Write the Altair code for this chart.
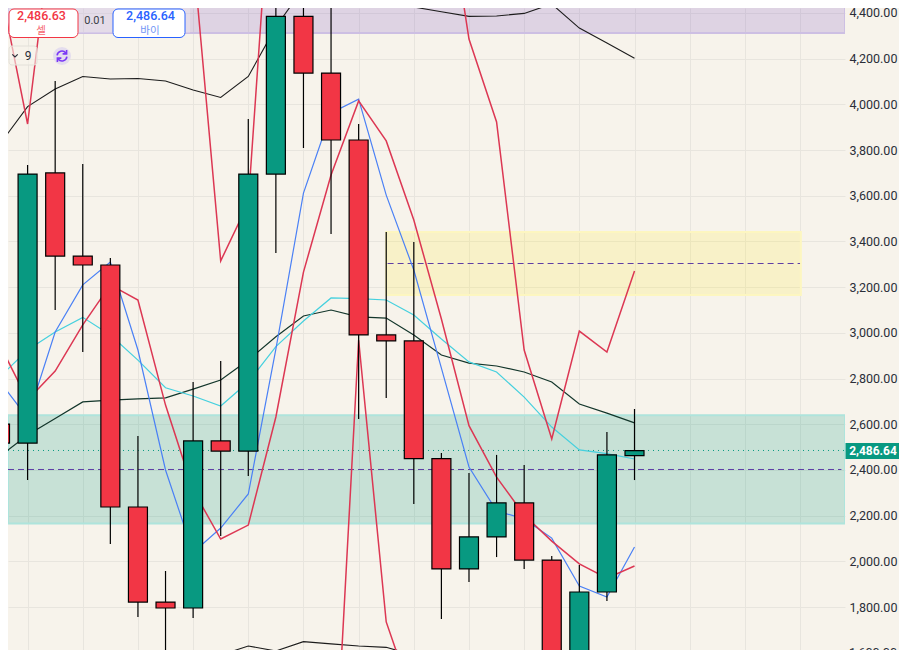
import altair as alt
import pandas as pd

idx = list(range(24))
opens  = [2601,2518,3700,3336,3297,2238,1822,1796,2527,2483,3695,4385,4137,3844,2991,2965,2450,1967,2107,2256,2006,1500,1866,2463]
closes = [2518,3695,3336,3297,2238,1822,1796,2527,2483,3695,4385,4137,3844,2991,2965,2450,1967,2107,2256,2006,1500,1866,2466,2485]
highs  = [2768,3735,4102,3739,3328,2549,1958,2785,2877,3936,4500,4500,4500,3914,3441,3398,2474,2387,2466,2422,2024,1984,2566,2667]
lows   = [2308,2356,3100,2916,2076,1757,1569,1752,2111,2374,3350,3809,3433,2623,2715,2251,1748,1910,2019,1967,1450,1400,1827,2356]

black_upper = [3827,3990,4067,4122,4111,4113,4102,4063,4030,4122,4339,4509,4588,4566,4496,4426,4405,4385,4387,4398,4439,4334,4269,4202]
black_lower_idx = [8,9,10,11,12,13,14,15]
black_lower = [1590,1630,1608,1649,1639,1630,1624,1590]
dark_mid = [2461,2553,2625,2698,2706,2711,2716,2754,2794,2881,2983,3074,3100,3070,3065,2991,2903,2868,2855,2829,2785,2689,2649,2606]
cyan_line = [2808,2925,3004,3068,2991,2881,2760,2724,2680,2785,2940,3052,3153,3150,3144,3078,2973,2873,2829,2719,2588,2488,2472,2448]
blue_line = [2786,2628,3004,3210,3310,2925,2400,2039,2146,2295,2929,3612,3962,4023,3603,3275,2846,2413,2221,2186,2102,1892,1844,2063]
crimson_line = [2947,2706,2833,3035,3210,3144,2684,2312,2098,2159,2632,3266,3691,4015,3840,3494,3061,2594,2369,2203,2089,1989,1927,1980]
wild_idx = [0,1,2, 7,8,9,10, 12,13,14,15, 16,17,18,19,20,21,22,23]
wild_seg = ["a","a","a", "b","b","b","b", "c","c","c","c", "d","d","d","d","d","d","d","d"]
wild_val = [4518,3914,4894, 4658,3315,3568,5310, 737,2969,1735,1385, 5069,4286,3923,2925,2536,3008,2916,3271]

zones = pd.DataFrame({
    "x0": [0.29, 0.29, 14.0], "x1": [30.63, 30.63, 29.03],
    "p0": [4500, 2640, 3441], "p1": [4312, 2166, 3166],
    "fill": ["#7E57C2", "#089981", "#FFEB3B"],
    "edge": ["#CDBFE3", "#AEE4DC", "#FDF6C0"],
})
levels = pd.DataFrame({"x0": [0.29, 14.05], "x1": [30.5, 29.0], "p": [2402.2, 3303.6]})
last_price = 2485.4
price_ticks = list(range(1800, 4401, 200))
low_tick = pd.DataFrame({"p": [1600], "t": ["1,600.00"]})
time_ticks = list(range(1, 30, 2))

GREEN, RED = "#089981", "#F23645"
BG = "#F7F3EB"
xs = alt.Scale(domain=[0.29, 30.63], nice=False, zero=False, padding=0)
ys = alt.Scale(domain=[1612.3, 4421.7], nice=False, zero=False, padding=0)
x_axis = alt.Axis(values=time_ticks, labels=False, ticks=False, domain=False, grid=True,
                  gridColor="#E8E5DE", gridWidth=1, title=None)
y_axis = alt.Axis(orient="right", values=price_ticks, format=",.2f", ticks=False, domain=False, grid=True,
                  gridColor="#E8E5DE", gridWidth=1, labelPadding=4, labelFont="Roboto", labelFontSize=12.5,
                  labelColor="#2A2E39", labelOverlap=False, title=None)
X = lambda f: alt.X(f, type="quantitative", scale=xs, axis=x_axis)
Y = lambda f: alt.Y(f, type="quantitative", scale=ys, axis=y_axis)

candles = pd.DataFrame({"i": idx, "o": opens, "c": closes, "h": highs, "l": lows})
candles["col"] = [GREEN if c >= o else RED for o, c in zip(opens, closes)]

zone_layer = alt.Chart(zones).mark_rect(clip=True, fillOpacity=0.2, strokeWidth=2).encode(
    x=X("x0"), x2="x1", y=Y("p0"), y2="p1",
    fill=alt.Fill("fill:N", scale=None), stroke=alt.Stroke("edge:N", scale=None))
level_layer = alt.Chart(levels).mark_rule(color="#5E3FA5", strokeDash=[6, 4], strokeWidth=1, clip=True).encode(
    x=X("x0"), x2="x1", y=Y("p"))
dotted = alt.Chart(pd.DataFrame({"x0": [0.29], "x1": [30.63], "p": [last_price]})).mark_rule(
    color=GREEN, strokeDash=[1, 4], strokeWidth=1, clip=True).encode(x=X("x0"), x2="x1", y=Y("p"))


def line(vals, color, width, order=idx, seg=None):
    d = pd.DataFrame({"i": order, "p": vals, "s": seg if seg else ["a"] * len(vals)})
    return alt.Chart(d).mark_line(color=color, strokeWidth=width, clip=True, interpolate="linear").encode(
        x=X("i"), y=Y("p"), detail="s:N")


wicks = alt.Chart(candles).mark_rule(color="#000000", strokeWidth=1.2, clip=True).encode(x=X("i"), y=Y("h"), y2="l")
bodies = alt.Chart(candles).mark_bar(size=19, stroke="#000000", strokeWidth=1.2, clip=True).encode(
    x=X("i"), y=Y("o"), y2="c", fill=alt.Fill("col:N", scale=None))


def box(x, x2, y, y2, **kw):
    return alt.Chart(pd.DataFrame({"t": ["g"]})).mark_rect(**kw).encode(
        x=alt.value(x), x2=alt.value(x2), y=alt.value(y), y2=alt.value(y2))


def label(text, x, y, color, size, font="Roboto", weight=400, align="center"):
    return alt.Chart(pd.DataFrame({"t": [text]})).mark_text(
        color=color, fontSize=size, font=font, fontWeight=weight, align=align, baseline="middle").encode(
        x=alt.value(x), y=alt.value(y), text="t:N")


def glyph(shape, x, y, size, color, width):
    return alt.Chart(pd.DataFrame({"t": ["g"]})).mark_point(
        shape=shape, size=size, color=color, strokeWidth=width, filled=False, opacity=1).encode(
        x=alt.value(x), y=alt.value(y))


circle = alt.Chart(pd.DataFrame({"t": ["g"]})).mark_point(
    shape="circle", size=324, color="#E4DDEE", filled=True, opacity=1).encode(x=alt.value(54), y=alt.value(48))
refresh = "M-0.8,-0.1 A0.8,0.8 0 0 1 0.62,-0.5 M0.8,0.1 A0.8,0.8 0 0 1 -0.62,0.5 M0.75,-1 L0.75,-0.35 L0.1,-0.35 M-0.75,1 L-0.75,0.35 L-0.1,0.35"

low_label = alt.Chart(low_tick).mark_text(
    color="#2A2E39", fontSize=12.5, font="Roboto", align="left", baseline="middle").encode(
    x=alt.value(841), y=Y("p"), text="t:N")

chart = alt.layer(
    zone_layer, level_layer, dotted,
    line(black_upper, "#1C1C1C", 1.1),
    line(black_lower, "#1C1C1C", 1.1, black_lower_idx),
    line(dark_mid, "#12352A", 1.2),
    line(cyan_line, "#45D0DE", 1.2),
    line(blue_line, "#4A80F5", 1.2),
    line(crimson_line, "#DC3753", 1.5),
    line(wild_val, "#DC3753", 1.5, wild_idx, wild_seg),
    wicks, bodies, low_label,
    box(0, 182, 0, 25, fill="#FFFFFF", fillOpacity=0.2),
    box(1, 70, 1, 29.5, fill="#FFFFFF", stroke="#F23645", strokeWidth=1, cornerRadius=5),
    box(105, 177, 1, 29.5, fill="#FFFFFF", stroke="#2962FF", strokeWidth=1, cornerRadius=5),
    box(1, 29, 38, 57, fill=BG, fillOpacity=0.6, stroke="#E3E0D9", strokeWidth=1, cornerRadius=3),
    label("2,486.63", 33.5, 7.5, "#F23645", 12.5, weight=500),
    label("셀", 33, 22.5, "#F5666F", 10.5, font="Noto Sans CJK KR"),
    label("0.01", 87, 12.5, "#3A3D46", 11),
    label("2,486.64", 142.5, 7.5, "#2962FF", 12.5, weight=500),
    label("바이", 142, 22.5, "#6F94F5", 10.5, font="Noto Sans CJK KR"),
    glyph("M-1,-0.4 L0,0.5 L1,-0.4", 7, 47.5, 30, "#2A2E39", 1.2),
    label("9", 20, 47.5, "#2A2E39", 12),
    circle,
    glyph(refresh, 54, 48, 150, "#7B39F5", 1.6),
    box(837.5, 891, 435, 451, fill=GREEN),
    label("2,486.64", 865, 443, "#FFFFFF", 12, weight=700),
).properties(
    width=837, height=642, background=BG,
    padding={"left": 0, "top": 0, "right": 54, "bottom": 0},
    autosize=alt.AutoSizeParams(type="none"),
).configure_view(stroke=None, fill=BG)

chart.save("out.html", embed_options={"renderer": "svg", "actions": False})
